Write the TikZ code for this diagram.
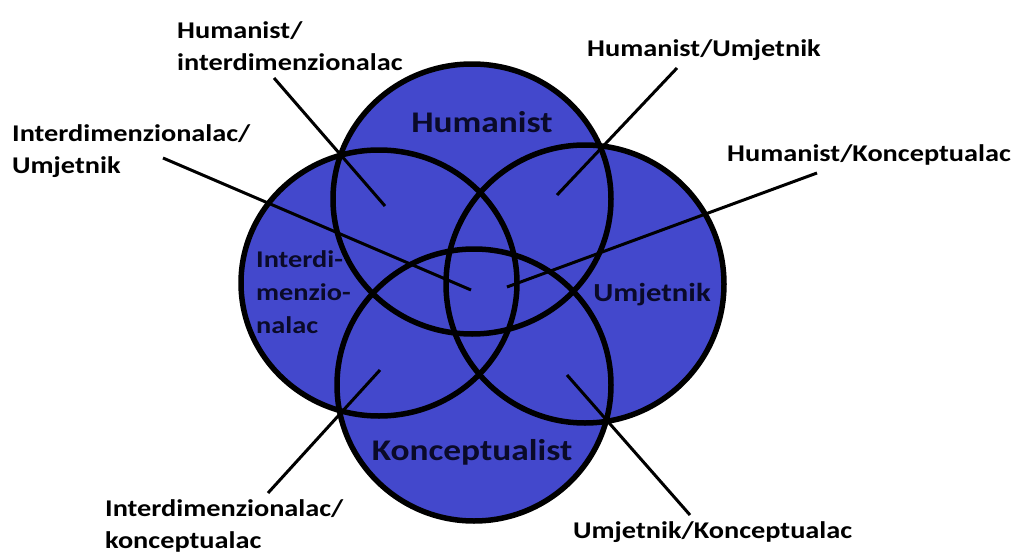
\documentclass[tikz,border=0pt]{standalone}
\usepackage{fontspec}
\setmainfont{Carlito}[FakeStretch=1.18]
\definecolor{vennblue}{RGB}{67,72,204}
\definecolor{venntext}{RGB}{10,10,40}
\tikzset{
	set_fill/.style = {
		fill=vennblue
	},
	set_ring/.style = {
		draw=black,
		line width=5.5pt
	},
	set_name/.style = {
		align=left,
		inner sep=0pt,
		text=venntext
	},
	pair_label/.style = {
		align=left,
		inner sep=0pt,
		anchor=west,
		font=\fontsize{24}{32}\selectfont\bfseries
	},
	pointer/.style = {
		draw=black,
		line width=3pt
	},
}

\begin{document}
\begin{tikzpicture}[x=1pt,y=-1pt]
\useasboundingbox (0,0) rectangle (1013,554);
% the four sets
\fill[set_fill] (472,199) ellipse [x radius=139, y radius=135];
\fill[set_fill] (379,283) ellipse [x radius=138, y radius=133];
\fill[set_fill] (585,284) ellipse [x radius=139, y radius=139];
\fill[set_fill] (474,385) ellipse [x radius=137, y radius=136];
\draw[set_ring] (472,199) ellipse [x radius=139, y radius=135];
\draw[set_ring] (379,283) ellipse [x radius=138, y radius=133];
\draw[set_ring] (585,284) ellipse [x radius=139, y radius=139];
\draw[set_ring] (474,385) ellipse [x radius=137, y radius=136];

% set names
\node [set_name, font=\fontsize{30}{30}\selectfont\bfseries] (hum_name) at (482,122) {Humanist};
\node [set_name, font=\fontsize{26}{26}\selectfont\bfseries] (umj_name) at (652,295) {Umjetnik};
\node [set_name, font=\fontsize{30}{30}\selectfont\bfseries] (kon_name) at (472,452) {Konceptualist};
\node [set_name, anchor=west, font=\fontsize{24}{33}\selectfont\bfseries] (int_name) at (256,292) {Interdi-\\menzio-\\nalac};

% overlap labels
\node [pair_label] (hi_label) at (177,46) {Humanist/\\interdimenzionalac};
\node [pair_label] (iu_label) at (12,151) {Interdimenzionalac/\\Umjetnik};
\node [pair_label] (hu_label) at (587,50) {Humanist/Umjetnik};
\node [pair_label] (hk_label) at (727,155) {Humanist/Konceptualac};
\node [pair_label] (ik_label) at (105,526) {Interdimenzionalac/\\konceptualac};
\node [pair_label] (uk_label) at (573,532) {Umjetnik/Konceptualac};

% pointer ends
\coordinate (hi_from) at (274,78);
\coordinate (hi_to) at (385,206);
\coordinate (iu_from) at (163,158);
\coordinate (iu_to) at (471,290);
\coordinate (hu_from) at (677,68);
\coordinate (hu_to) at (557,195);
\coordinate (hk_from) at (817,173);
\coordinate (hk_to) at (507,287);
\coordinate (ik_from) at (268,493);
\coordinate (ik_to) at (380,370);
\coordinate (uk_from) at (690,515);
\coordinate (uk_to) at (567,375);

\draw[pointer] (hi_from) -- (hi_to);
\draw[pointer] (iu_from) -- (iu_to);
\draw[pointer] (hu_from) -- (hu_to);
\draw[pointer] (hk_from) -- (hk_to);
\draw[pointer] (ik_from) -- (ik_to);
\draw[pointer] (uk_from) -- (uk_to);
\end{tikzpicture}
\end{document}
